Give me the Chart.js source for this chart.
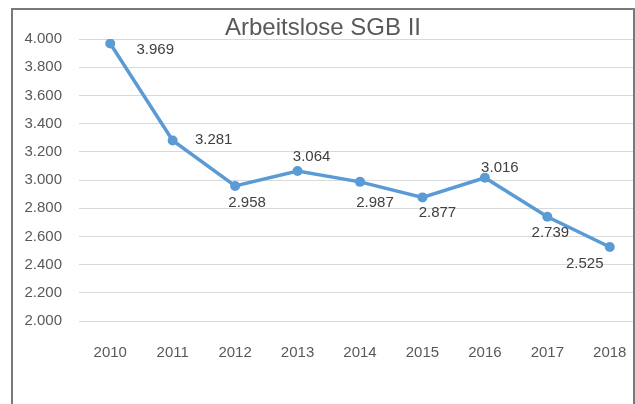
<!DOCTYPE html>
<html>
<head>
<meta charset="utf-8">
<script src="https://cdn.jsdelivr.net/npm/chart.js"></script>
<style>
  html, body { margin: 0; padding: 0; background: #fff; overflow: hidden; width: 635px; height: 404px; }
  #wrap { position: absolute; left: 0; top: 0; width: 646px; height: 404px; }
  #grafica { width: 646px; height: 404px; }
  #frame { position: absolute; left: 11px; top: 8px; width: 620px; height: 420px;
           border: 2px solid #7a7a7a; border-bottom: none; pointer-events: none; }
</style>
</head>
<body>
<div id="wrap"><canvas id="grafica" width="646" height="404"></canvas></div>
<div id="frame"></div>
<script>
var jahre = ["2010", "2011", "2012", "2013", "2014", "2015", "2016", "2017", "2018"];
var arbeitslose = [3969, 3281, 2958, 3064, 2987, 2877, 3016, 2739, 2525];
var yMin = 2000, yMax = 4000, yStep = 200;

// label offsets from the point (dx, dy), like the manual placement in the original
var labelVersatz = [[45, 6], [41, -1], [12, 17], [14, -14], [15, 21], [15, 15], [15, -10], [3, 16], [-25, 17]];

function deutsch(v) {
  return v.toLocaleString("de-DE");
}

var wertePlugin = {
  id: "werte",
  afterDatasetsDraw: function(chart) {
    var ctx = chart.ctx;
    var meta = chart.getDatasetMeta(0);
    ctx.save();
    ctx.font = "15px 'Liberation Sans', Arial, sans-serif";
    ctx.fillStyle = "#404040";
    ctx.textAlign = "center";
    ctx.textBaseline = "middle";
    meta.data.forEach(function(p, i) {
      var o = labelVersatz[i];
      ctx.fillText(deutsch(arbeitslose[i]), p.x + o[0], p.y + o[1]);
    });
    ctx.restore();
  }
};

var ctx = document.getElementById("grafica").getContext("2d");
var chart = new Chart(ctx, {
  type: "line",
  data: {
    labels: jahre,
    datasets: [{
      label: "Arbeitslose SGB II",
      data: arbeitslose,
      borderColor: "#5b9bd5",
      backgroundColor: "#5b9bd5",
      borderWidth: 3.5,
      pointRadius: 5,
      pointBorderWidth: 0,
      tension: 0
    }]
  },
  options: {
    responsive: false,
    animation: false,
    layout: { padding: { left: 0, right: 0, top: 0, bottom: 0 } },
    plugins: {
      legend: { display: false },
      tooltip: { enabled: false },
      title: {
        display: true,
        text: "Arbeitslose SGB II",
        color: "#595959",
        font: { family: "'Liberation Sans', Arial, sans-serif", size: 24, weight: "normal", lineHeight: 0.92 },
        padding: { top: 17, bottom: 0 }
      }
    },
    scales: {
      x: {
        offset: true,
        grid: { display: false },
        border: { display: false },
        ticks: {
          color: "#595959",
          padding: 15,
          font: { family: "'Liberation Sans', Arial, sans-serif", size: 15 }
        },
        afterFit: function(s) { s.height = 83; }
      },
      y: {
        min: yMin,
        max: yMax,
        grid: { color: "#d9d9d9", lineWidth: 1, drawTicks: false },
        border: { display: false },
        ticks: {
          stepSize: yStep,
          color: "#595959",
          padding: 17,
          font: { family: "'Liberation Sans', Arial, sans-serif", size: 15 },
          callback: function(v) { return deutsch(v); }
        },
        afterFit: function(s) { s.width = 79; }
      }
    }
  },
  plugins: [wertePlugin]
});
</script>
</body>
</html>
